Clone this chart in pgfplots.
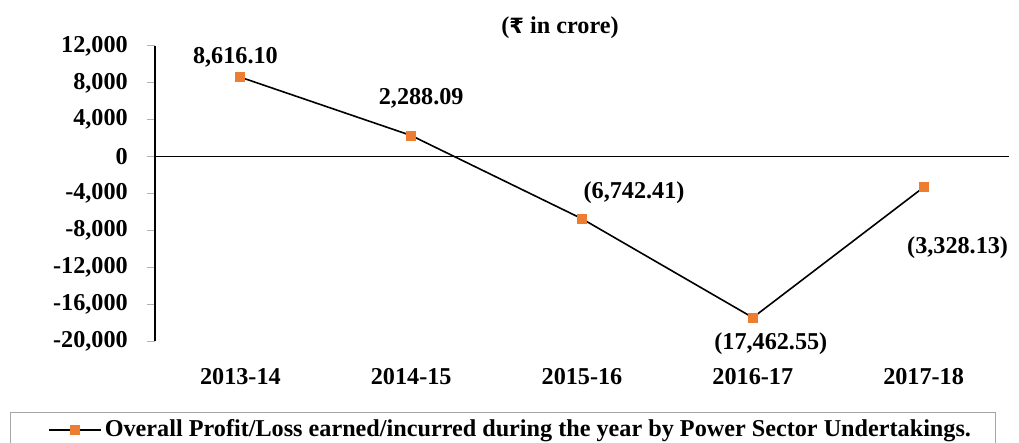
\documentclass[border=0pt]{standalone}
\usepackage{pgfplots}
\pgfplotsset{compat=1.18}
\usepackage{pgfplotstable}
\usepackage{fontspec}
\setmainfont{Liberation Serif}
\newfontfamily\rupeefont{DejaVu Sans}
\definecolor{mk}{HTML}{ED7D31}
\pgfplotstableread{
x y lab dx dy
0 8616.10 8,616.10 -5 20
1 2288.09 2,288.09 10 37
2 -6742.41 (6,742.41) 52 26
3 -17462.55 (17,462.55) 18 -26
4 -3328.13 (3,328.13) 34 -60
}\datatable
\newcommand{\bigf}{\fontsize{24.2}{29}\selectfont\bfseries}
\begin{document}
\bigf
\begin{tikzpicture}
\useasboundingbox (0,0) rectangle (1019pt,-443pt);
\begin{axis}[
  at={(155pt,-341pt)}, anchor=south west,
  scale only axis, width=854pt, height=295pt,
  xmin=-0.5, xmax=4.5, ymin=-20000, ymax=12000,
  axis lines*=left,
  x axis line style={draw=none},
  y axis line style={black, line width=1.2pt},
  xtick={0,1,2,3,4},
  xticklabels={2013-14,2014-15,2015-16,2016-17,2017-18},
  major x tick style={draw=none},
  scaled y ticks=false,
  ytick={-20000,-16000,-12000,-8000,-4000,0,4000,8000,12000},
  yticklabels={{-20,000},{-16,000},{-12,000},{-8,000},{-4,000},0,{4,000},{8,000},{12,000}},
  tick align=outside,
  major tick length=8pt,
  major y tick style={gray!60, line width=1pt},
  ticklabel style={font=\bigf, inner sep=0pt},
  yticklabel style={anchor=east, xshift=-19pt},
  xticklabel style={anchor=center, yshift=-27.5pt},
  clip=false,
  legend style={at={(-0.1253,-0.3017)}, anchor=west, draw=none, fill=none, inner sep=0pt, font=\bigf, nodes={inner sep=3pt}},
  legend image code/.code={\draw[black,line width=1.6pt](0pt,0pt)--(52pt,0pt); \fill[mk](21.5pt,-4.5pt) rectangle (30.5pt,4.5pt);},
]
\draw[black, line width=1.2pt] (axis cs:-0.5,0) -- (axis cs:4.5,0);
\addplot[black, line width=1.6pt, mark=square*, mark size=4.5pt,
  mark options={fill=mk, draw=mk, solid, line width=0pt},
  nodes near coords, point meta=explicit symbolic,
  visualization depends on={\thisrow{dx}\as\dx},
  visualization depends on={\thisrow{dy}\as\dy},
  nodes near coords style={anchor=center, xshift=\dx pt, yshift=\dy pt, font=\bigf, text=black, inner sep=0pt}
] table[x=x,y=y,meta=lab]{\datatable};
\addlegendentry{Overall Profit/Loss earned/incurred during the year by Power Sector Undertakings.}
\end{axis}
\node[font=\bigf] at (560pt,-28pt) {({\rupeefont\fontsize{21}{25}\selectfont\bfseries ₹} in crore)};
\draw[gray!70, line width=1pt] (10pt,-412pt) rectangle (995pt,-470pt);
\end{tikzpicture}
\end{document}
